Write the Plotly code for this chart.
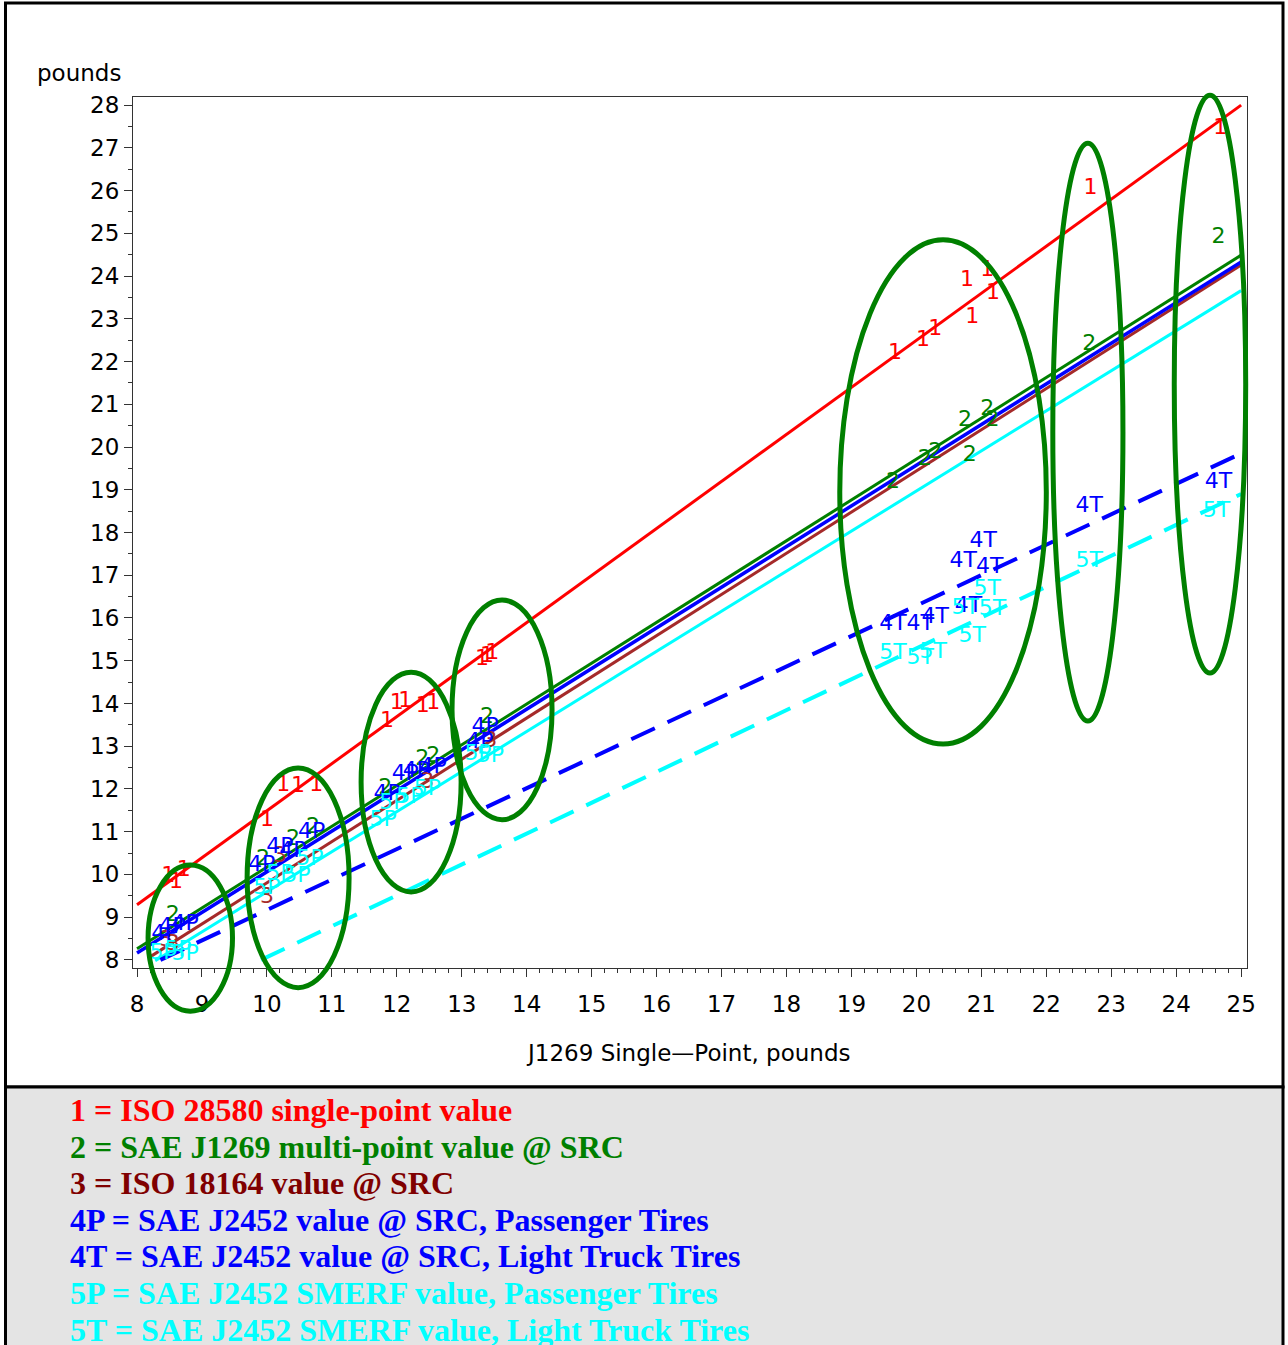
import plotly.graph_objects as go

# ---------------- data ----------------
x_range = [7.938, 25.09]
y_range = [7.81, 28.19]

# series 1 : ISO 28580 single-point value (red "1")
s1_x = [8.48, 8.60, 8.72, 10.00, 10.25, 10.48, 10.76, 11.85, 12.00, 12.13, 12.40, 12.56,
        13.31, 13.39, 13.47, 19.67, 20.10, 20.29, 20.78, 21.09, 21.18, 20.86, 22.68, 24.68]
s1_y = [9.94, 9.82, 10.10, 11.27, 12.09, 12.05, 12.09, 13.57, 14.01, 14.04, 13.92, 14.01,
        15.02, 15.09, 15.18, 22.20, 22.50, 22.74, 23.90, 24.14, 23.60, 23.04, 26.06, 27.46]
# series 2 : SAE J1269 multi-point (green "2")
s2_x = [8.55, 9.94, 10.40, 10.71, 11.82, 12.39, 12.56, 13.39, 19.64, 20.13, 20.29, 20.82,
        20.75, 21.09, 21.17, 22.66, 24.65]
s2_y = [9.05, 10.34, 10.81, 11.09, 12.02, 12.68, 12.75, 13.66, 19.18, 19.70, 19.88, 19.81,
        20.63, 20.87, 20.63, 22.39, 24.91]
# series 3 : ISO 18164 (brown "3")
s3_x = [8.55, 8.45, 10.20, 10.00, 12.47, 13.44]
s3_y = [8.35, 8.45, 10.41, 9.47, 12.16, 13.10]
# series 4P : SAE J2452 passenger (blue "4P")
s4p_x = [8.54, 8.74, 8.43, 10.20, 10.69, 9.92, 10.40, 12.13, 12.56, 11.85, 12.30, 13.36, 13.28]
s4p_y = [8.75, 8.82, 8.60, 10.62, 10.97, 10.22, 10.53, 12.33, 12.49, 11.86, 12.40, 13.43, 13.08]
# series 4T : SAE J2452 light truck (blue "4T")
s4t_x = [21.03, 20.72, 21.13, 20.80, 19.64, 20.06, 20.29, 22.66, 24.65]
s4t_y = [17.78, 17.31, 17.17, 16.26, 15.84, 15.84, 16.00, 18.60, 19.16]
# series 5P : SMERF passenger (cyan "5P")
s5p_x = [8.40, 8.63, 8.74, 10.00, 10.20, 10.46, 10.66, 11.79, 11.94, 12.20, 12.47, 13.25, 13.44]
s5p_y = [8.16, 8.23, 8.12, 9.68, 9.99, 9.94, 10.34, 11.27, 11.67, 11.81, 11.98, 12.80, 12.75]
# series 5T : SMERF light truck (cyan "5T")
s5t_x = [21.09, 20.75, 21.17, 20.86, 19.64, 20.06, 20.26, 22.66, 24.62]
s5t_y = [16.66, 16.23, 16.19, 15.56, 15.18, 15.06, 15.20, 17.33, 18.48]

# regression lines (start / end)
fit_names = ["1", "2", "3", "4", "5", "4T", "5T"]
fit_x0 = [8.00, 8.00, 8.20, 8.00, 8.28, 8.36, 9.91]
fit_y0 = [9.29, 8.26, 8.07, 8.16, 7.98, 8.00, 8.00]
fit_x1 = [25.0, 25.0, 25.0, 25.0, 25.0, 25.0, 25.0]
fit_y1 = [28.00, 24.49, 24.26, 24.33, 23.66, 19.85, 18.90]

# grouping ellipses: centre x, centre y, half-width, half-height (data units)
ell_cx = [8.82, 10.48, 12.22, 13.62, 20.41, 22.64, 24.52]
ell_cy = [8.51, 9.92, 12.16, 13.85, 18.95, 20.35, 21.47]
ell_rx = [0.65, 0.785, 0.77, 0.77, 1.59, 0.54, 0.55]
ell_ry = [1.71, 2.57, 2.57, 2.57, 5.90, 6.76, 6.76]

legend_lines = [
    "1 = ISO 28580 single-point value",
    "2 = SAE J1269 multi-point value @ SRC",
    "3 = ISO 18164 value @ SRC",
    "4P = SAE J2452 value @ SRC, Passenger Tires",
    "4T = SAE J2452 value @ SRC, Light Truck Tires",
    "5P = SAE J2452 SMERF value, Passenger Tires",
    "5T = SAE J2452 SMERF value, Light Truck Tires",
]
legend_colors = ["#ff0000", "#008000", "#800000", "#0000ff", "#0000ff", "#00ffff", "#00ffff"]

x_title = "J1269 Single\u2014Point, pounds"
y_title = "pounds"

# ---------------- layout geometry ----------------
W, H = 1288, 1345
L, R, T, B = 133, 1247, 97, 968

def ppx(px):
    return (px - L) / (R - L)

def ppy(py):
    return (B - py) / (B - T)

def dx(x):
    return (x - x_range[0]) / (x_range[1] - x_range[0])

def dy(y):
    return (y - y_range[0]) / (y_range[1] - y_range[0])

RED, GREEN, BROWN, BLUE, CYAN = "#ff0000", "#008000", "#a52a2a", "#0000ff", "#00ffff"

fig = go.Figure()

line_colors = [RED, GREEN, BROWN, BLUE, CYAN, BLUE, CYAN]
line_widths = [3, 3, 3, 3.5, 3, 4, 4]
line_dash = ["solid", "solid", "solid", "solid", "solid", "26px,14px", "26px,14px"]
for i in range(len(fit_names)):
    fig.add_trace(go.Scatter(
        x=[fit_x0[i], fit_x1[i]], y=[fit_y0[i], fit_y1[i]], mode="lines",
        line=dict(color=line_colors[i], width=line_widths[i], dash=line_dash[i]),
        hoverinfo="skip", showlegend=False))

series = [
    (s3_x, s3_y, "3", BROWN),
    (s1_x, s1_y, "1", RED),
    (s2_x, s2_y, "2", GREEN),
    (s4p_x, s4p_y, "4P", BLUE),
    (s4t_x, s4t_y, "4T", BLUE),
    (s5p_x, s5p_y, "5P", CYAN),
    (s5t_x, s5t_y, "5T", CYAN),
]
for sx, sy, lab, col in series:
    fig.add_trace(go.Scatter(
        x=sx, y=sy, mode="text", text=[lab] * len(sx), textposition="middle center",
        textfont=dict(family="DejaVu Sans", size=22, color=col),
        cliponaxis=False, showlegend=False, hoverinfo="skip"))

shapes = []
# outer frame (chart part) and legend box
shapes.append(dict(type="rect", xref="paper", yref="paper", layer="below",
                   x0=ppx(5.5), x1=ppx(1283), y0=ppy(3), y1=ppy(1087),
                   line=dict(color="black", width=3), fillcolor="white"))
shapes.append(dict(type="rect", xref="paper", yref="paper", layer="below",
                   x0=ppx(5.5), x1=ppx(1283), y0=ppy(1087), y1=ppy(1360),
                   line=dict(color="black", width=3), fillcolor="#e4e4e4"))
for i in range(len(ell_cx)):
    shapes.append(dict(type="circle", xref="paper", yref="paper", layer="above",
                       x0=dx(ell_cx[i] - ell_rx[i]), x1=dx(ell_cx[i] + ell_rx[i]),
                       y0=dy(ell_cy[i] - ell_ry[i]), y1=dy(ell_cy[i] + ell_ry[i]),
                       line=dict(color=GREEN, width=5)))

annotations = [
    dict(text=y_title, xref="paper", yref="paper", x=ppx(35), y=ppy(73),
         xanchor="left", yanchor="middle", showarrow=False,
         font=dict(family="DejaVu Sans", size=23, color="black")),
    dict(text=x_title, xref="paper", yref="paper", x=ppx(688), y=ppy(1053),
         xanchor="center", yanchor="middle", showarrow=False,
         font=dict(family="DejaVu Sans", size=23, color="black")),
]
leg_y = [1110, 1147, 1183, 1220, 1256, 1293, 1330]
for txt, col, py in zip(legend_lines, legend_colors, leg_y):
    annotations.append(dict(text="<b>" + txt + "</b>", xref="paper", yref="paper",
                            x=ppx(68), y=ppy(py), xanchor="left", yanchor="middle",
                            showarrow=False,
                            font=dict(family="Liberation Serif", size=32, color=col)))

axis_common = dict(showgrid=False, zeroline=False, showline=True, mirror=True,
                   linecolor="#333333", linewidth=1, ticks="outside", ticklen=8,
                   tickcolor="#333333", tickwidth=1,
                   tickfont=dict(family="DejaVu Sans", size=23, color="black"))

fig.update_layout(
    width=W, height=H,
    margin=dict(l=L, r=W - R, t=T, b=H - B),
    paper_bgcolor="white", plot_bgcolor="white",
    showlegend=False,
    xaxis=dict(range=x_range, tickmode="linear", tick0=8, dtick=1,
               ticklabelstandoff=7,
               minor=dict(dtick=0.2, tick0=8, ticks="outside", ticklen=4,
                          tickcolor="#333333", showgrid=False),
               **axis_common),
    yaxis=dict(range=y_range, tickmode="linear", tick0=8, dtick=1,
               minor=dict(dtick=0.5, tick0=8, ticks="outside", ticklen=4,
                          tickcolor="#333333", showgrid=False),
               **axis_common),
    shapes=shapes,
    annotations=annotations,
)

fig.write_html("out.html")
